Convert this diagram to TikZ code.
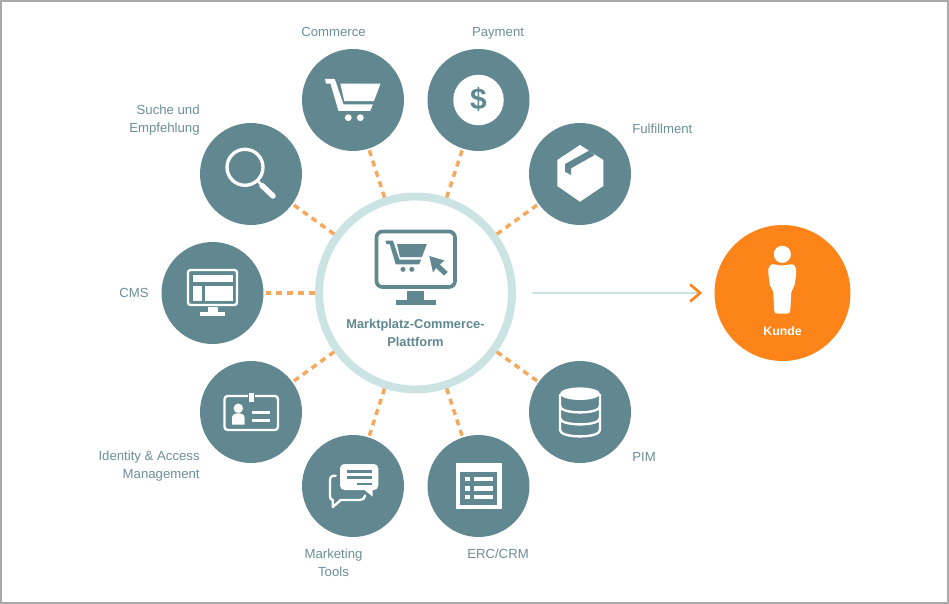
\documentclass[tikz,border=0pt]{standalone}
\usepackage{fontspec}
\setmainfont{Liberation Sans}
\usetikzlibrary{arrows.meta}

\definecolor{tealc}{HTML}{618890}
\definecolor{labelc}{HTML}{6B8F97}
\definecolor{ringc}{HTML}{CBE3E3}
\definecolor{dashc}{HTML}{F4A95F}
\definecolor{kundec}{HTML}{FD8419}
\definecolor{framec}{HTML}{A9A9A9}

\tikzset{cart/.pic={
  \path[pic actions] (0,0) -- (9.8,0) -- (18.5,25.5) -- (47.8,25.5) -- (45.3,32) -- (13.5,32) -- (5.5,4.6) -- (1,4.6) -- cycle;
  \path[pic actions] (15.3,4.6) -- (55.5,4.6) -- (48.9,22.2) -- (19.3,22.2) -- cycle;
  \path[pic actions] (23.3,38.7) circle [radius=0.068cm];
  \path[pic actions] (35.3,38.7) circle [radius=0.068cm];
}}

\begin{document}
\begin{tikzpicture}[x=0.02cm, y=-0.02cm,
  sat/.style={circle, fill=tealc, minimum size=2.04cm, inner sep=0pt},
  lbl/.style={text=labelc, font=\fontsize{7.5}{10.2}\selectfont, inner sep=0pt},
  dashline/.style={dashc, line width=2pt, dash pattern=on 3.4pt off 2.8pt},
  icon/.style={white, line width=1.35pt}]

\useasboundingbox (0,0) rectangle (949,604);
\draw [framec, line width=1.13pt] (1,1) rectangle (948,603);

% -------- Circles -----------
\node [circle, draw=ringc, line width=4.5pt, fill=white, minimum size=3.86cm, inner sep=0pt] (hub) at (415.5,293) {};
\node [circle, fill=kundec, minimum size=2.72cm, inner sep=0pt] (kunde) at (782.5,293) {};
\node [sat] (commerce) at (353,100) {};
\node [sat] (payment) at (478.5,100) {};
\node [sat] (fulfil) at (580,174) {};
\node [sat] (suche) at (251,174) {};
\node [sat] (cms) at (212.5,293) {};
\node [sat] (identity) at (251,412) {};
\node [sat] (marketing) at (353,486) {};
\node [sat] (erc) at (478.5,486) {};
\node [sat] (pim) at (580,412) {};

% -------- Connectors -----------
\draw [dashline] (hub) -- (commerce);
\draw [dashline] (hub) -- (payment);
\draw [dashline] (hub) -- (fulfil);
\draw [dashline] (hub) -- (suche);
\draw [dashline] (hub) -- (cms);
\draw [dashline] (hub) -- (identity);
\draw [dashline] (hub) -- (marketing);
\draw [dashline] (hub) -- (erc);
\draw [dashline] (hub) -- (pim);
\draw [ringc, line width=1.3pt, shorten <=0.32cm, shorten >=0.24cm,
  -{Straight Barb[color=kundec, length=0.2cm, width=0.34cm, line width=1.5pt]}] (hub) -- (kunde);

% -------- Labels -----------
\node [lbl] (lcommerce) at (333.5,32) {Commerce};
\node [lbl] (lpayment) at (498,33) {Payment};
\node [lbl, anchor=west] (lfulfil) at (632,129) {Fulfillment};
\node [lbl, anchor=east, align=right] (lsuche) at (200,120) {Suche und\\Empfehlung};
\node [lbl, anchor=east] (lcms) at (149,293) {CMS};
\node [lbl, anchor=east, align=right] (lidentity) at (200,466) {Identity \& Access\\Management};
\node [lbl, align=center] (lmarketing) at (333.5,563) {Marketing\\Tools};
\node [lbl] (lerc) at (498,554) {ERC/CRM};
\node [lbl, anchor=west] (lpim) at (632,457) {PIM};
\node [lbl, text=tealc, align=center, font=\fontsize{7.3}{10.2}\selectfont\bfseries] (lhub) at (415.5,333) {Marktplatz-Commerce-\\Plattform};
\node [lbl, text=white, font=\fontsize{7}{10}\selectfont\bfseries] (lkunde) at (782.5,331) {Kunde};

% Monitor in the middle
\draw [tealc, line width=2.1pt, rounded corners=3.4pt] (376.5,231.5) rectangle (455,287);
\fill [tealc] (407.3,291) rectangle (424,301);
\fill [tealc] (396,300.3) rectangle (435.7,305);
\pic [fill=tealc, scale=0.74] at (385.7,240.7) {cart};
\fill [tealc] (429.3,256) -- (444.5,260.5) -- (439.8,264.5) -- (447.8,272) -- (444,275.5) -- (436,268) -- (433,272.5) -- cycle;

% Commerce
\pic [fill=white] at (325,79) {cart};

% Payment
\node [circle, fill=white, text=tealc, minimum size=1.01cm, inner sep=0pt, font=\fontsize{17}{17}\selectfont\bfseries] (dollar) at (478.5,100) {\raisebox{-1.1pt}{\$}};

% Fulfillment
\fill [white] (580,145) -- (603.3,160) -- (603.3,186) -- (580,201.7) -- (557.3,186) -- (557.3,160) -- cycle;
\fill [tealc] (589.3,150.5) -- (565,164) -- (565,171.7) -- (571,175) -- (571,168.3) -- (594.7,155) -- cycle;

% Suche
\draw [icon, line width=1.9pt] (245,167.3) circle [radius=0.36cm];
\draw [icon, line width=1.5pt] (258,181) -- (262,185.5);
\draw [icon, line width=3.1pt, line cap=round] (262,185.5) -- (273,196);

% CMS
\draw [icon, rounded corners=1.5pt] (188,270) rectangle (237,305);
\fill [white] (192.7,275) rectangle (232.7,282.3);
\fill [white] (192.7,285.7) rectangle (201.7,301);
\fill [white] (205,285.7) rectangle (232.7,301);
\fill [white] (208.3,306.7) rectangle (217.7,312.5);
\fill [white] (200,312.3) rectangle (225,316);

% Identity
\draw [icon, rounded corners=1.8pt] (224.5,396) rectangle (278,430);
\draw [tealc, fill=white, line width=0.5pt] (248,392.5) rectangle (254.5,402);
\fill [white] (238.3,408.3) circle [radius=0.095cm];
\fill [white] (232,424.5) -- (232,418) .. controls (232,414.5) and (235,413.3) .. (238.3,413.3) .. controls (241.5,413.3) and (244.6,414.5) .. (244.6,418) -- (244.6,424.5) -- cycle;
\fill [white] (252.3,410.8) rectangle (270,414.4);
\fill [white] (252.3,418.8) rectangle (270,422.4);

% Marketing
\fill [white, rounded corners=2.5pt] (340,464) rectangle (378.3,490);
\fill [white] (363.3,489) -- (372.7,496.7) -- (372.7,489) -- cycle;
\fill [tealc] (347.3,470) rectangle (371.7,472.5);
\fill [tealc] (347.3,475.7) rectangle (371.7,479);
\fill [tealc] (357.3,483) rectangle (371.7,485);
\draw [icon, line cap=round, line join=round] (335.7,475.7) .. controls (331,475.7) and (330,477) .. (330,481) -- (330,496) .. controls (330,498.5) and (331,500) .. (332.8,500) -- (332.8,507) -- (340.7,500) -- (360,500) .. controls (363,500) and (365,498) .. (365,495.5);

% ERC/CRM
\fill [white] (456,463.3) rectangle (501.7,509.3);
\fill [tealc] (460,471.7) rectangle (497.3,505);
\fill [white] (465,476.7) rectangle (470,481);
\fill [white] (474.3,476.7) rectangle (492.7,481);
\fill [white] (465,486) rectangle (470,490.5);
\fill [white] (474.3,486) rectangle (492.7,490.5);
\fill [white] (465,495) rectangle (470,499.3);
\fill [white] (474.3,495) rectangle (492.7,499.3);

% PIM
\fill [white] (580,393.7) ellipse [x radius=0.4cm, y radius=0.126cm];
\draw [icon] (560,394) -- (560,430) .. controls (560,438.5) and (600,438.5) .. (600,430) -- (600,394);
\draw [icon] (560,406) .. controls (560,414.5) and (600,414.5) .. (600,406);
\draw [icon] (560,418) .. controls (560,426.5) and (600,426.5) .. (600,418);

% Kunde
\fill [white] (782.3,254.3) circle [radius=0.172cm];
\fill [white] (782.3,265.5) .. controls (777,265.5) and (773,263) .. (770.5,265) .. controls (768,267) and (768.3,270) .. (768.3,273) -- (769.5,283) .. controls (770,287) and (772.5,289) .. (773.2,292) -- (774.2,310) .. controls (774.3,312.5) and (775,313.5) .. (777,313.5) -- (787.5,313.5) .. controls (789.5,313.5) and (790.2,312.5) .. (790.3,310) -- (791.3,292) .. controls (792,289) and (794.5,287) .. (795,283) -- (796.2,273) .. controls (796.2,270) and (796.5,267) .. (794,265) .. controls (791.5,263) and (787.5,265.5) .. (782.3,265.5) -- cycle;

\end{tikzpicture}
\end{document}
